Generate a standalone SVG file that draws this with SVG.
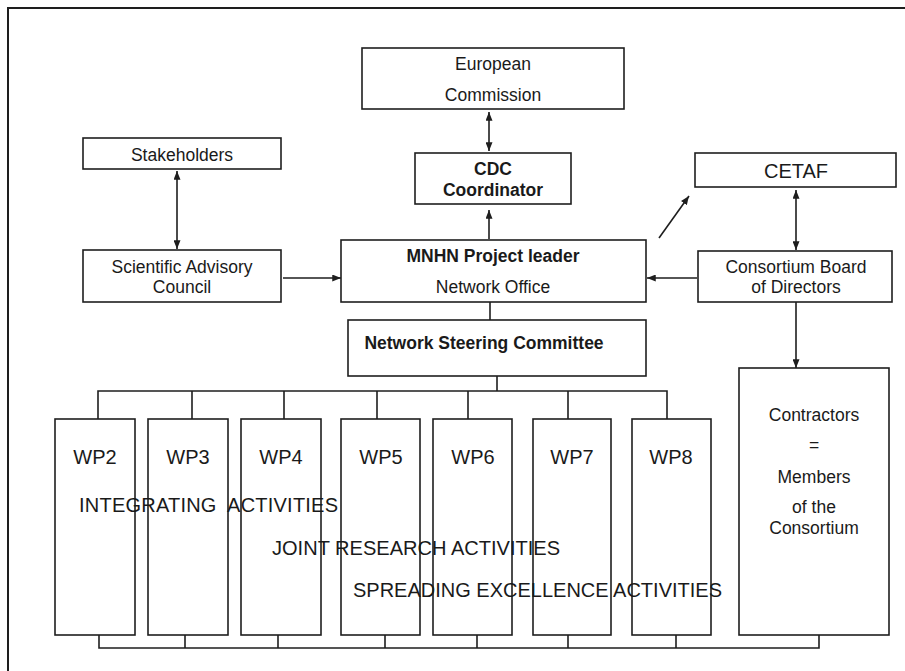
<svg xmlns="http://www.w3.org/2000/svg" width="905" height="671" viewBox="0 0 905 671">
<defs>
<style>
.box{fill:#fff;stroke:#1e1e1e;stroke-width:1.6}
.ln{fill:none;stroke:#1e1e1e;stroke-width:1.6}
.t{font-family:"Liberation Sans",Arial,sans-serif;font-size:17.5px;fill:#1a1a1a;text-anchor:middle}
.b{font-weight:bold}
.big{font-size:20px}
.act{font-family:"Liberation Sans",Arial,sans-serif;font-size:20px;fill:#1a1a1a}
</style>
<marker id="ah" viewBox="0 0 10 8" refX="10" refY="4" markerWidth="9" markerHeight="7" markerUnits="userSpaceOnUse" orient="auto-start-reverse">
<path d="M0,0 L10,4 L0,8 z" fill="#1e1e1e"/>
</marker>
</defs>
<rect width="905" height="671" fill="#fff"/>
<path d="M8,671 L8,8 L905,8" fill="none" stroke="#1e1e1e" stroke-width="2"/>

<g id="connectors">
<line class="ln" x1="177" y1="171" x2="177" y2="249" marker-start="url(#ah)" marker-end="url(#ah)"/>
<line class="ln" x1="489" y1="112" x2="489" y2="151" marker-start="url(#ah)" marker-end="url(#ah)"/>
<line class="ln" x1="489" y1="239" x2="489" y2="210" marker-end="url(#ah)"/>
<line class="ln" x1="796" y1="190" x2="796" y2="250" marker-start="url(#ah)" marker-end="url(#ah)"/>
<line class="ln" x1="659" y1="238" x2="689" y2="196" marker-end="url(#ah)"/>
<line class="ln" x1="697" y1="278" x2="647" y2="278" marker-end="url(#ah)"/>
<line class="ln" x1="283" y1="278" x2="341" y2="278" marker-end="url(#ah)"/>
<line class="ln" x1="796" y1="302" x2="796" y2="368" marker-end="url(#ah)"/>
<line class="ln" x1="490" y1="302" x2="490" y2="320"/>
<line class="ln" x1="497" y1="376" x2="497" y2="391"/>
<path class="ln" d="M98,419 V391 H667 V419 M192,391 V419 M284,391 V419 M377,391 V419 M468,391 V419 M568,391 V419"/>
<path class="ln" d="M99,635 V648 H819 V635 M185,635 V648 M278,635 V648 M385,635 V648 M477,635 V648 M568,635 V648 M676,635 V648"/>
</g>

<g id="european-commission">
<rect class="box" x="362" y="48" width="262" height="61"/>
<text class="t" x="493" y="70">European</text>
<text class="t" x="493" y="101">Commission</text>
</g>
<g id="cdc-coordinator">
<rect class="box" x="415" y="153" width="156" height="51"/>
<text class="t b" x="493" y="175">CDC</text>
<text class="t b" x="493" y="196">Coordinator</text>
</g>
<g id="stakeholders">
<rect class="box" x="83" y="138" width="198" height="31"/>
<text class="t" x="182" y="161">Stakeholders</text>
</g>
<g id="scientific-advisory-council">
<rect class="box" x="83" y="250" width="198" height="52"/>
<text class="t" x="182" y="273">Scientific Advisory</text>
<text class="t" x="182" y="293">Council</text>
</g>
<g id="mnhn">
<rect class="box" x="341" y="240" width="305" height="62"/>
<text class="t b" x="493" y="262">MNHN Project leader</text>
<text class="t" x="493" y="293">Network Office</text>
</g>
<g id="cetaf">
<rect class="box" x="695" y="153" width="201" height="34"/>
<text class="t big" x="796" y="178">CETAF</text>
</g>
<g id="consortium-board">
<rect class="box" x="698" y="251" width="194" height="51"/>
<text class="t" x="796" y="273">Consortium Board</text>
<text class="t" x="796" y="293">of Directors</text>
</g>
<g id="steering-committee">
<rect class="box" x="348" y="320" width="298" height="56"/>
<text class="t b" x="484" y="349">Network Steering Committee</text>
</g>
<g id="wp2"><rect class="box" x="55" y="419" width="80" height="216"/><text class="t big" x="95" y="464">WP2</text></g>
<g id="wp3"><rect class="box" x="148" y="419" width="80" height="216"/><text class="t big" x="188" y="464">WP3</text></g>
<g id="wp4"><rect class="box" x="241" y="419" width="80" height="216"/><text class="t big" x="281" y="464">WP4</text></g>
<g id="wp5"><rect class="box" x="341" y="419" width="79" height="216"/><text class="t big" x="381" y="464">WP5</text></g>
<g id="wp6"><rect class="box" x="433" y="419" width="79" height="216"/><text class="t big" x="473" y="464">WP6</text></g>
<g id="wp7"><rect class="box" x="533" y="419" width="78" height="216"/><text class="t big" x="572" y="464">WP7</text></g>
<g id="wp8"><rect class="box" x="632" y="419" width="79" height="216"/><text class="t big" x="671" y="464">WP8</text></g>
<g id="contractors">
<rect class="box" x="739" y="368" width="150" height="267"/>
<text class="t" x="814" y="421">Contractors</text>
<text class="t" x="814" y="451">=</text>
<text class="t" x="814" y="483">Members</text>
<text class="t" x="814" y="513">of the</text>
<text class="t" x="814" y="534">Consortium</text>
</g>
<g id="activities">
<text class="act" x="79" y="512" textLength="259" lengthAdjust="spacing" xml:space="preserve">INTEGRATING  ACTIVITIES</text>
<text class="act" x="272" y="555" textLength="288" lengthAdjust="spacingAndGlyphs">JOINT RESEARCH ACTIVITIES</text>
<text class="act" x="353" y="597" textLength="369" lengthAdjust="spacingAndGlyphs">SPREADING EXCELLENCE ACTIVITIES</text>
</g>
</svg>
